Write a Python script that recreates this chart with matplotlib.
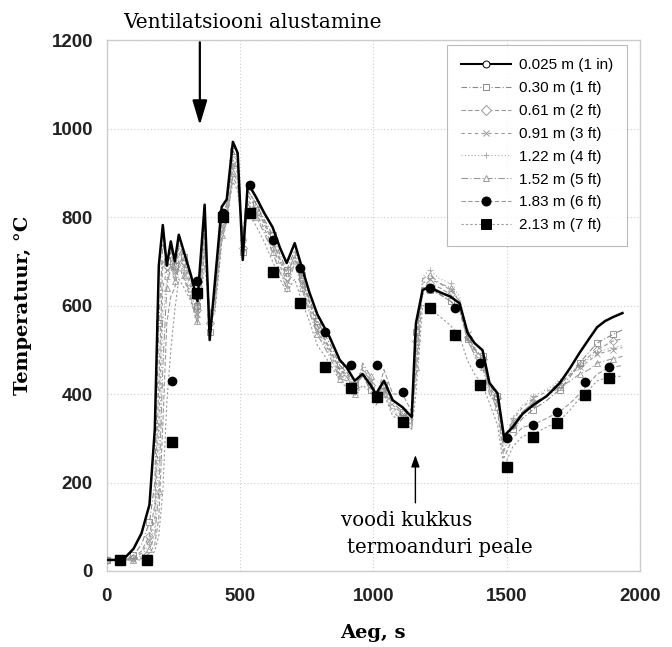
import numpy as np
import matplotlib
matplotlib.use("Agg")
import matplotlib.pyplot as plt
from matplotlib.lines import Line2D

# time grid for the lines (s)
t = [0, 60, 100, 130, 160, 180, 195, 210, 225, 240, 255, 270, 290, 315, 340, 367, 386, 405,
     431, 450, 473, 491, 510, 529, 560, 590, 622, 650, 675, 705, 731, 760, 790, 836, 874, 900,
     930, 960, 990, 1010, 1040, 1073, 1110, 1144, 1160, 1185, 1211, 1250, 1290, 1324, 1354,
     1380, 1410, 1436, 1466, 1490, 1523, 1560, 1600, 1650, 1700, 1740, 1774, 1810, 1840, 1870,
     1900, 1935]

temp_0025 = [25, 25, 50, 85, 150, 320, 690, 782, 690, 745, 700, 760, 720, 670, 610, 828, 522, 650,
             823, 840, 970, 945, 703, 877, 845, 810, 777, 730, 696, 741, 688, 630, 580, 529, 477, 460,
             430, 445, 420, 400, 430, 386, 370, 348, 560, 635, 642, 630, 620, 605, 538,
             515, 499, 425, 402, 305, 325, 355, 375, 395, 425, 460, 493, 525, 551, 565,
             574, 583]
temp_030 = [25, 25, 35, 60, 110, 200, 560, 740, 700, 730, 690, 740, 710, 660, 600, 800, 540, 630,
            800, 830, 950, 930, 720, 860, 830, 795, 760, 715, 680, 725, 670, 615, 565, 515, 465, 450,
            420, 440, 410, 395, 420, 380, 360, 340, 540, 625, 635, 625, 610, 590, 525,
            500, 485, 420, 395, 300, 320, 345, 365, 385, 410, 440, 470, 495, 515, 525,
            535, 545]
temp_061 = [25, 25, 30, 45, 80, 150, 420, 700, 690, 720, 680, 730, 700, 650, 590, 780, 560, 620,
            790, 820, 930, 910, 730, 850, 820, 785, 745, 700, 665, 715, 660, 605, 555, 505, 455, 445,
            415, 450, 420, 390, 415, 375, 355, 335, 520, 640, 650, 640, 625, 600, 530,
            505, 480, 415, 390, 295, 330, 360, 380, 395, 420, 445, 465, 485, 500, 510,
            520, 525]
temp_091 = [25, 25, 28, 40, 70, 120, 330, 640, 680, 710, 675, 720, 690, 640, 580, 760, 570, 610,
            780, 810, 920, 900, 740, 840, 810, 775, 735, 690, 655, 705, 650, 595, 545, 495, 445, 440,
            410, 460, 430, 385, 410, 370, 350, 330, 500, 650, 660, 650, 635, 610, 535,
            500, 475, 410, 385, 290, 340, 370, 390, 405, 425, 445, 460, 475, 490, 495,
            500, 505]
temp_122 = [25, 25, 26, 35, 60, 100, 250, 560, 660, 700, 665, 710, 680, 630, 575, 750, 580, 600,
            770, 800, 910, 890, 750, 835, 805, 770, 725, 680, 645, 700, 645, 590, 540, 490, 440, 435,
            405, 465, 435, 380, 405, 365, 345, 325, 480, 665, 680, 660, 650, 620, 540,
            495, 470, 405, 380, 285, 345, 375, 395, 410, 430, 450, 465, 480, 495, 500,
            505, 510]
temp_152 = [25, 25, 25, 30, 50, 80, 180, 460, 640, 690, 655, 700, 670, 620, 565, 740, 585, 595,
            760, 795, 900, 880, 755, 830, 800, 765, 720, 675, 640, 695, 640, 585, 535, 485, 435, 430,
            400, 470, 440, 375, 400, 360, 340, 320, 460, 660, 670, 650, 640, 610, 530,
            485, 460, 400, 370, 270, 330, 360, 380, 395, 415, 430, 445, 455, 470, 475,
            480, 485]
temp_183 = [25, 25, 25, 28, 40, 60, 120, 330, 560, 620, 640, 690, 660, 615, 560, 720, 590, 590,
            750, 790, 890, 870, 760, 860, 830, 790, 750, 705, 675, 710, 665, 610, 555, 500, 455, 440,
            405, 455, 430, 385, 455, 400, 400, 360, 430, 640, 640, 625, 610, 590, 520,
            490, 470, 415, 360, 255, 300, 325, 330, 345, 360, 380, 400, 425, 445, 455,
            460, 465]
temp_213 = [25, 25, 25, 25, 30, 45, 80, 180, 380, 500, 590, 660, 640, 610, 560, 690, 590, 580,
            740, 800, 880, 860, 760, 810, 780, 745, 700, 660, 630, 660, 610, 565, 510, 470, 430, 415,
            395, 420, 405, 380, 400, 350, 340, 320, 400, 600, 595, 575, 555, 530, 475,
            445, 420, 380, 330, 235, 280, 305, 310, 325, 340, 365, 390, 410, 430, 435,
            440, 440]

# marker points of the two deepest thermocouples
mark_t = [50, 150, 244, 337, 435, 536, 622, 724, 820, 915, 1014, 1110, 1211, 1305, 1399, 1500,
          1598, 1691, 1793, 1886]
mark_183 = [25, 25, 430, 655, 810, 872, 748, 685, 541, 466, 466, 405, 640, 594, 470, 300,
            330, 359, 427, 461]
mark_213 = [25, 25, 292, 628, 800, 809, 676, 605, 461, 414, 394, 337, 594, 533, 420, 235,
            303, 334, 398, 436]

labels = ["0.025 m (1 in)", "0.30 m (1 ft)", "0.61 m (2 ft)", "0.91 m (3 ft)",
          "1.22 m (4 ft)", "1.52 m (5 ft)", "1.83 m (6 ft)", "2.13 m (7 ft)"]

series = [temp_0025, temp_030, temp_061, temp_091, temp_122, temp_152, temp_183, temp_213]
for s in series:
    assert len(s) == len(t)

# style per series: colour, linestyle, linewidth, marker, filled
styles = [
    ("black", "-", 1.8, "o", False),
    ("#888888", (0, (5, 2, 1, 2)), 0.8, "s", False),
    ("#999999", (0, (4, 2)), 0.8, "D", False),
    ("#999999", (0, (3, 3)), 0.8, "x", False),
    ("#aaaaaa", (0, (1, 2)), 0.8, "+", False),
    ("#999999", (0, (6, 2, 1, 2)), 0.8, "^", False),
    ("#999999", (0, (4, 2)), 0.8, "o", True),
    ("#999999", (0, (2, 2)), 0.8, "s", True),
]

fig = plt.figure(figsize=(6.72, 6.47), dpi=100)
ax = fig.add_axes([0.159, 0.1175, 0.793, 0.8205])

# draw the gray ones first so the black line stays on top
for i in range(len(series) - 1, -1, -1):
    col, ls, lw, mk, filled = styles[i]
    if i in (6, 7):
        ax.plot(t, series[i], color=col, ls=ls, lw=lw, zorder=2)
    elif i == 0:
        ax.plot(t, series[i], color=col, ls=ls, lw=lw, zorder=4)
    else:
        ax.plot(t, series[i], color=col, ls=ls, lw=lw, marker=mk, ms=4,
                mfc="none", mec=col, mew=0.6, markevery=2, zorder=3)

ax.plot(mark_t, mark_183, ls="none", marker="o", ms=6, color="black", zorder=5)
ax.plot(mark_t, mark_213, ls="none", marker="s", ms=6.5, color="black", zorder=5)

handles = []
for i, (col, ls, lw, mk, filled) in enumerate(styles):
    mcol = "black" if filled else col
    handles.append(Line2D([], [], color=col, ls=ls, lw=lw if i else 1.5, marker=mk,
                          ms=6.5 if filled else 5, mfc=mcol if filled else "white",
                          mec=mcol, mew=0.7))
leg = ax.legend(handles, labels, loc="upper right", bbox_to_anchor=(0.99, 1.006),
                frameon=True, fancybox=False, edgecolor="#aaaaaa",
                handlelength=3.3, labelspacing=0.58, borderpad=0.9, handletextpad=0.5,
                prop={"family": "Liberation Sans", "size": 11})
leg.get_frame().set_linewidth(0.8)

ax.set_xlim(0, 2000)
ax.set_ylim(0, 1200)
ax.set_xticks(np.arange(0, 2001, 500))
ax.set_yticks(np.arange(0, 1201, 200))
ax.tick_params(length=0, labelsize=13.5)
ax.tick_params(axis="x", pad=12)
ax.tick_params(axis="y", pad=10)
for lab in ax.get_xticklabels() + ax.get_yticklabels():
    lab.set_fontfamily("Liberation Sans")
    lab.set_fontweight("bold")
    lab.set_color("#222222")
ax.grid(True, color="#cccccc", ls=(0, (1, 2)), lw=0.8)
ax.set_axisbelow(True)
for sp in ax.spines.values():
    sp.set_color("#cccccc")
    sp.set_linewidth(1.0)

ax.set_xlabel("Aeg, s", family="DejaVu Serif", fontweight="bold", fontsize=14, labelpad=14)
ax.set_ylabel("Temperatuur, °C", family="DejaVu Serif", fontweight="bold", fontsize=14,
              labelpad=14)

# annotations
ax.annotate("", xy=(349, 1008), xytext=(349, 1195),
            arrowprops=dict(arrowstyle="-|>,head_width=0.45,head_length=1.5", color="black",
                            lw=1.6, shrinkA=0, shrinkB=0),
            annotation_clip=False)
ax.text(545, 1218, "Ventilatsiooni alustamine", family="DejaVu Serif", fontsize=14.5,
        ha="center", va="bottom", clip_on=False)

ax.annotate("", xy=(1158, 262), xytext=(1158, 154),
            arrowprops=dict(arrowstyle="-|>,head_width=0.25,head_length=0.7", color="black",
                            lw=1.0, shrinkA=0, shrinkB=0))
ax.text(880, 115, "voodi kukkus", family="DejaVu Serif", fontsize=14.2, ha="left",
        va="center")
ax.text(900, 52, "termoanduri peale", family="DejaVu Serif", fontsize=14.2, ha="left",
        va="center")

fig.savefig("out.png", dpi=100)
